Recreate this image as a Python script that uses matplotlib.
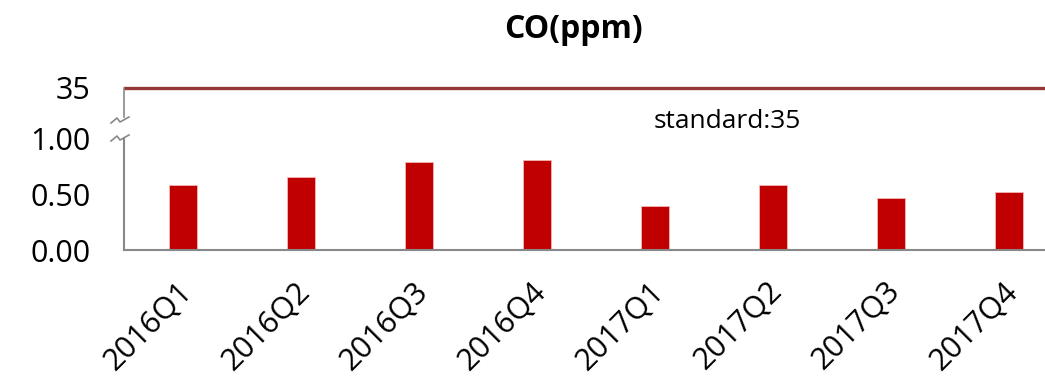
import matplotlib
matplotlib.use("Agg")
import matplotlib.pyplot as plt
from matplotlib.lines import Line2D
from matplotlib.transforms import ScaledTranslation
import numpy as np

plt.rcParams['font.family'] = ['Open Sans', 'DejaVu Sans']

quarters = ['2016Q1', '2016Q2', '2016Q3', '2016Q4',
            '2017Q1', '2017Q2', '2017Q3', '2017Q4']
co_ppm = [0.59, 0.66, 0.79, 0.81, 0.40, 0.59, 0.47, 0.52]
standard = 35
low_ticks = [0.0, 0.5, 1.0]

W, H = 1045, 384
fig = plt.figure(figsize=(W / 100, H / 100), dpi=100)

def px(x0, y_top, w, h):
    # pixel box (top-left origin) -> figure fraction rect
    return [x0 / W, 1 - (y_top + h) / H, w / W, h / H]

spine_c = '#898989'
ax = fig.add_axes(px(124, 139, 944, 111))
ax_top = fig.add_axes(px(124, 85, 944, 32), sharex=ax)

x = np.arange(len(quarters))
ax.bar(x, co_ppm, width=0.24, color='#C00000', edgecolor='#F4B6B6', linewidth=0.6)
ax.set_ylim(0, 1)
ax.set_xlim(-0.5, len(quarters) - 0.5)
ax.set_yticks(low_ticks)
ax.set_yticklabels([f'{v:.2f}' for v in low_ticks])
ax.set_xticks(x)
ax.set_xticklabels(quarters, rotation=45, ha='right', rotation_mode='anchor')
ax.tick_params(axis='y', length=0, pad=24, labelsize=22)
ax.tick_params(axis='x', length=0, pad=19, labelsize=22)
# nudge the slanted quarter labels a little to the left
shift = ScaledTranslation(-6 / 100, 0, fig.dpi_scale_trans)
for lbl in ax.get_xticklabels():
    lbl.set_transform(lbl.get_transform() + shift)
for s in ['top', 'right']:
    ax.spines[s].set_visible(False)
for s in ['left', 'bottom']:
    ax.spines[s].set_color(spine_c)
    ax.spines[s].set_linewidth(1.5)

ax_top.axhline(standard, color='#953735', linewidth=2.4)
ax_top.set_ylim(standard - 1, standard + 0.1)
ax_top.set_yticks([standard])
ax_top.tick_params(axis='y', length=0, pad=24, labelsize=22)
ax_top.tick_params(axis='x', bottom=False, labelbottom=False)
for s in ['top', 'right', 'bottom']:
    ax_top.spines[s].set_visible(False)
ax_top.spines['left'].set_color(spine_c)
ax_top.spines['left'].set_linewidth(1.2)
ax_top.spines['left'].set_bounds(standard - 1, standard)

# zigzag break marks on the value axis
zx = np.array([-12, -6, -3, 6])
zy = np.array([4, -1, 3, -2])
for yc in (119, 137):
    fig.add_artist(Line2D((123 + zx) / W, 1 - (yc + zy) / H,
                          transform=fig.transFigure, color=spine_c, linewidth=1.2))

fig.text(654 / W, 1 - 128 / H, f'standard:{standard}', fontsize=19,
         ha='left', va='baseline')
fig.text(573 / W, 1 - 30 / H, 'CO(ppm)', fontsize=23, fontweight='bold',
         ha='center', va='center')

fig.savefig('out.png', dpi=100)
